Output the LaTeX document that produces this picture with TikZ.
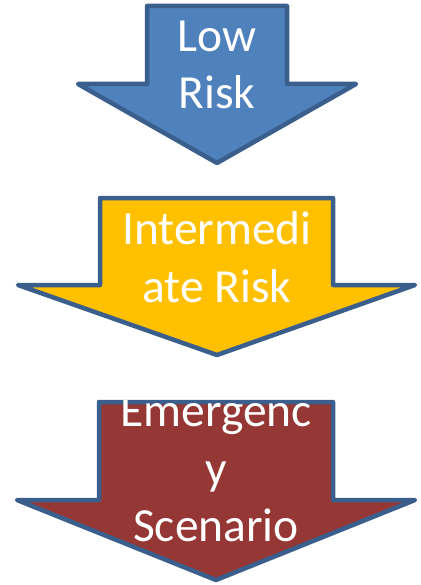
\documentclass[tikz,border=0pt]{standalone}
\usepackage{fontspec}
\setmainfont{Carlito}
\definecolor{arrowline}{HTML}{3B5F8D}
\definecolor{lowblue}{HTML}{4F81BD}
\definecolor{midgold}{HTML}{FFC000}
\definecolor{emred}{HTML}{953735}
\begin{document}
\begin{tikzpicture}[x=1pt,y=-1pt,
  arrowshape/.style={draw=arrowline, line width=4.5pt, line join=round},
  arrowtext/.style={text=white, font=\fontsize{47.5}{57.5}\selectfont, align=center, inner sep=0pt}]
\useasboundingbox (0,0) rectangle (420,585);
\draw[arrowshape, fill=lowblue] (147,6) -- (287,6) -- (287,84) -- (356,84) -- (217,163) -- (78,84) -- (147,84) -- cycle;
\node[arrowtext] (low) at (217,65) {Low\\Risk};
\draw[arrowshape, fill=midgold] (100,198) -- (333,198) -- (333,285) -- (415,285) -- (217,355) -- (18,285) -- (100,285) -- cycle;
\node[arrowtext] (mid) at (217,257) {Intermedi\\ate Risk};
\draw[arrowshape, fill=emred] (99,402) -- (333,402) -- (333,500) -- (415,500) -- (216,580) -- (17,500) -- (99,500) -- cycle;
\begin{scope}
\clip (0,400) rectangle (420,585);
\node[arrowtext] (em) at (216,469) {Emergenc\\y\\Scenario};
\end{scope}
\end{tikzpicture}
\end{document}
